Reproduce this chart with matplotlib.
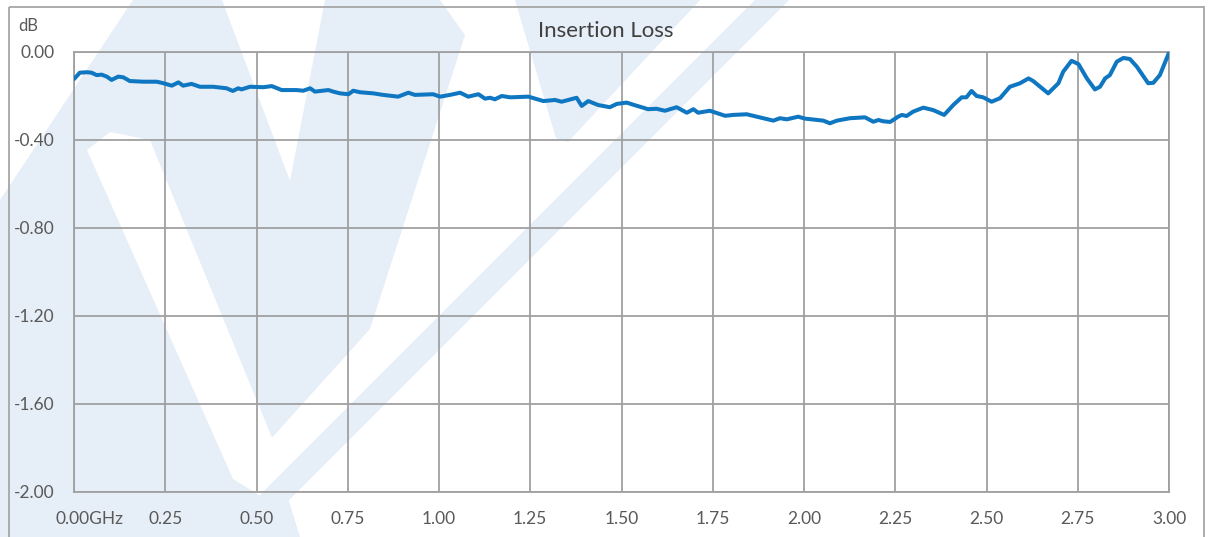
import numpy as np
import matplotlib
matplotlib.use("Agg")
import matplotlib.pyplot as plt
from matplotlib.patches import Polygon, Rectangle
from matplotlib import transforms

plt.rcParams['font.family'] = ['Lato', 'DejaVu Sans']

# insertion loss trace (GHz, dB)
freq = [0.000, 0.016, 0.035, 0.048, 0.062, 0.076, 0.090, 0.103, 0.121, 0.135,
        0.153, 0.190, 0.227, 0.245, 0.268, 0.286, 0.299, 0.322, 0.345, 0.382,
        0.418, 0.435, 0.450, 0.459, 0.482, 0.519, 0.542, 0.569, 0.610, 0.628,
        0.647, 0.660, 0.697, 0.710, 0.729, 0.752, 0.765, 0.784, 0.820, 0.847,
        0.888, 0.916, 0.934, 0.984, 1.003, 1.030, 1.058, 1.080, 1.108, 1.126,
        1.140, 1.153, 1.172, 1.195, 1.245, 1.286, 1.318, 1.336, 1.377, 1.391,
        1.409, 1.436, 1.468, 1.487, 1.514, 1.537, 1.573, 1.596, 1.619, 1.651,
        1.679, 1.697, 1.710, 1.742, 1.784, 1.806, 1.843, 1.916, 1.934, 1.953,
        1.984, 2.003, 2.021, 2.053, 2.071, 2.090, 2.126, 2.167, 2.190, 2.204,
        2.217, 2.236, 2.258, 2.268, 2.281, 2.299, 2.327, 2.354, 2.384, 2.409,
        2.432, 2.445, 2.459, 2.473, 2.491, 2.514, 2.537, 2.564, 2.592, 2.615,
        2.628, 2.669, 2.697, 2.710, 2.733, 2.752, 2.775, 2.797, 2.811, 2.825,
        2.838, 2.857, 2.875, 2.893, 2.912, 2.943, 2.957, 2.975, 3.000]
loss = [-0.123, -0.094, -0.092, -0.094, -0.105, -0.103, -0.112, -0.127, -0.112, -0.115,
        -0.132, -0.135, -0.135, -0.142, -0.153, -0.138, -0.153, -0.145, -0.158, -0.158,
        -0.165, -0.177, -0.165, -0.170, -0.158, -0.160, -0.155, -0.173, -0.173, -0.176,
        -0.165, -0.180, -0.173, -0.180, -0.188, -0.192, -0.176, -0.183, -0.188, -0.195,
        -0.203, -0.185, -0.195, -0.192, -0.203, -0.195, -0.185, -0.203, -0.192, -0.212,
        -0.208, -0.215, -0.200, -0.206, -0.203, -0.223, -0.218, -0.226, -0.208, -0.245,
        -0.223, -0.241, -0.251, -0.236, -0.230, -0.242, -0.260, -0.258, -0.267, -0.251,
        -0.276, -0.260, -0.276, -0.267, -0.290, -0.286, -0.283, -0.312, -0.301, -0.306,
        -0.294, -0.303, -0.306, -0.312, -0.324, -0.312, -0.301, -0.297, -0.317, -0.309,
        -0.315, -0.318, -0.294, -0.286, -0.291, -0.271, -0.253, -0.264, -0.286, -0.241,
        -0.206, -0.206, -0.177, -0.200, -0.206, -0.226, -0.210, -0.158, -0.142, -0.120,
        -0.132, -0.188, -0.142, -0.090, -0.040, -0.055, -0.120, -0.170, -0.158, -0.120,
        -0.105, -0.044, -0.027, -0.032, -0.067, -0.142, -0.140, -0.105, -0.003]

x_ticks = [0.00, 0.25, 0.50, 0.75, 1.00, 1.25, 1.50, 1.75, 2.00, 2.25, 2.50, 2.75, 3.00]
x_labels = ["0.00GHz", "0.25", "0.50", "0.75", "1.00", "1.25", "1.50", "1.75",
            "2.00", "2.25", "2.50", "2.75", "3.00"]
y_ticks = [0.00, -0.40, -0.80, -1.20, -1.60, -2.00]
y_labels = ["0.00", "-0.40", "-0.80", "-1.20", "-1.60", "-2.00"]

W, H = 1212, 537
fig = plt.figure(figsize=(W / 100, H / 100), dpi=100)

# faint logo watermark behind the chart (pixel coords, rough)
bg = fig.add_axes([0, 0, 1, 1], zorder=0)
bg.set_xlim(0, W)
bg.set_ylim(H, 0)
bg.axis('off')
wm = '#E6EEF7'
logo = [(0, 200), (133, 0), (222, 0), (290, 181), (325, 0), (440, 0), (465, 35),
        (370, 329), (270, 440), (300, 537), (0, 537)]
bg.add_patch(Polygon(logo, closed=True, facecolor=wm, edgecolor='none', joinstyle='round'))
hole = [(87, 150), (110, 132), (150, 140), (275, 445), (290, 482), (262, 497), (233, 479)]
bg.add_patch(Polygon(hole, closed=True, facecolor='white', edgecolor='none'))
wedge = [(515, 0), (700, 0), (568, 142), (556, 138)]
bg.add_patch(Polygon(wedge, closed=True, facecolor=wm, edgecolor='none'))
stripe = [(218, 537), (252, 537), (789, 0), (755, 0)]
bg.add_patch(Polygon(stripe, closed=True, facecolor=wm, edgecolor='none'))
bg.add_patch(Rectangle((9, 7), 1195, 560, facecolor='none', edgecolor='#A6A6A6', lw=1.3))

ax = fig.add_axes([74 / W, 1 - 492 / H, (1169 - 74) / W, (492 - 52) / H], zorder=1)
ax.patch.set_alpha(0)

ax.plot(freq, loss, color='#0F77C1', lw=2.9, solid_joinstyle='round',
        solid_capstyle='round', zorder=3)

ax.set_xlim(0, 3)
ax.set_ylim(-2, 0)
ax.set_xticks(x_ticks)
ax.set_xticklabels(x_labels)
ax.set_yticks(y_ticks)
ax.set_yticklabels(y_labels)
ax.grid(True, color='#A0A0A0', lw=1.3)
ax.set_axisbelow(True)
for sp in ax.spines.values():
    sp.set_color('#A0A0A0')
    sp.set_linewidth(1.3)
ax.tick_params(length=0, labelsize=12.5, labelcolor='#595959')
ax.tick_params(axis='x', pad=14)
ax.tick_params(axis='y', pad=14)

# the GHz unit hangs off the first label, the number stays on the tick
first = ax.get_xticklabels()[0]
first.set_ha('left')
first.set_transform(first.get_transform() +
                    transforms.ScaledTranslation(-19 / 100, 0, fig.dpi_scale_trans))

fig.text(606 / W, 1 - 31 / H, "Insertion Loss", ha='center', va='center',
         fontsize=16, color='#404040')
fig.text(18 / W, 1 - 26 / H, "dB", ha='left', va='center', fontsize=12, color='#595959')

fig.savefig("out.png", dpi=100)
